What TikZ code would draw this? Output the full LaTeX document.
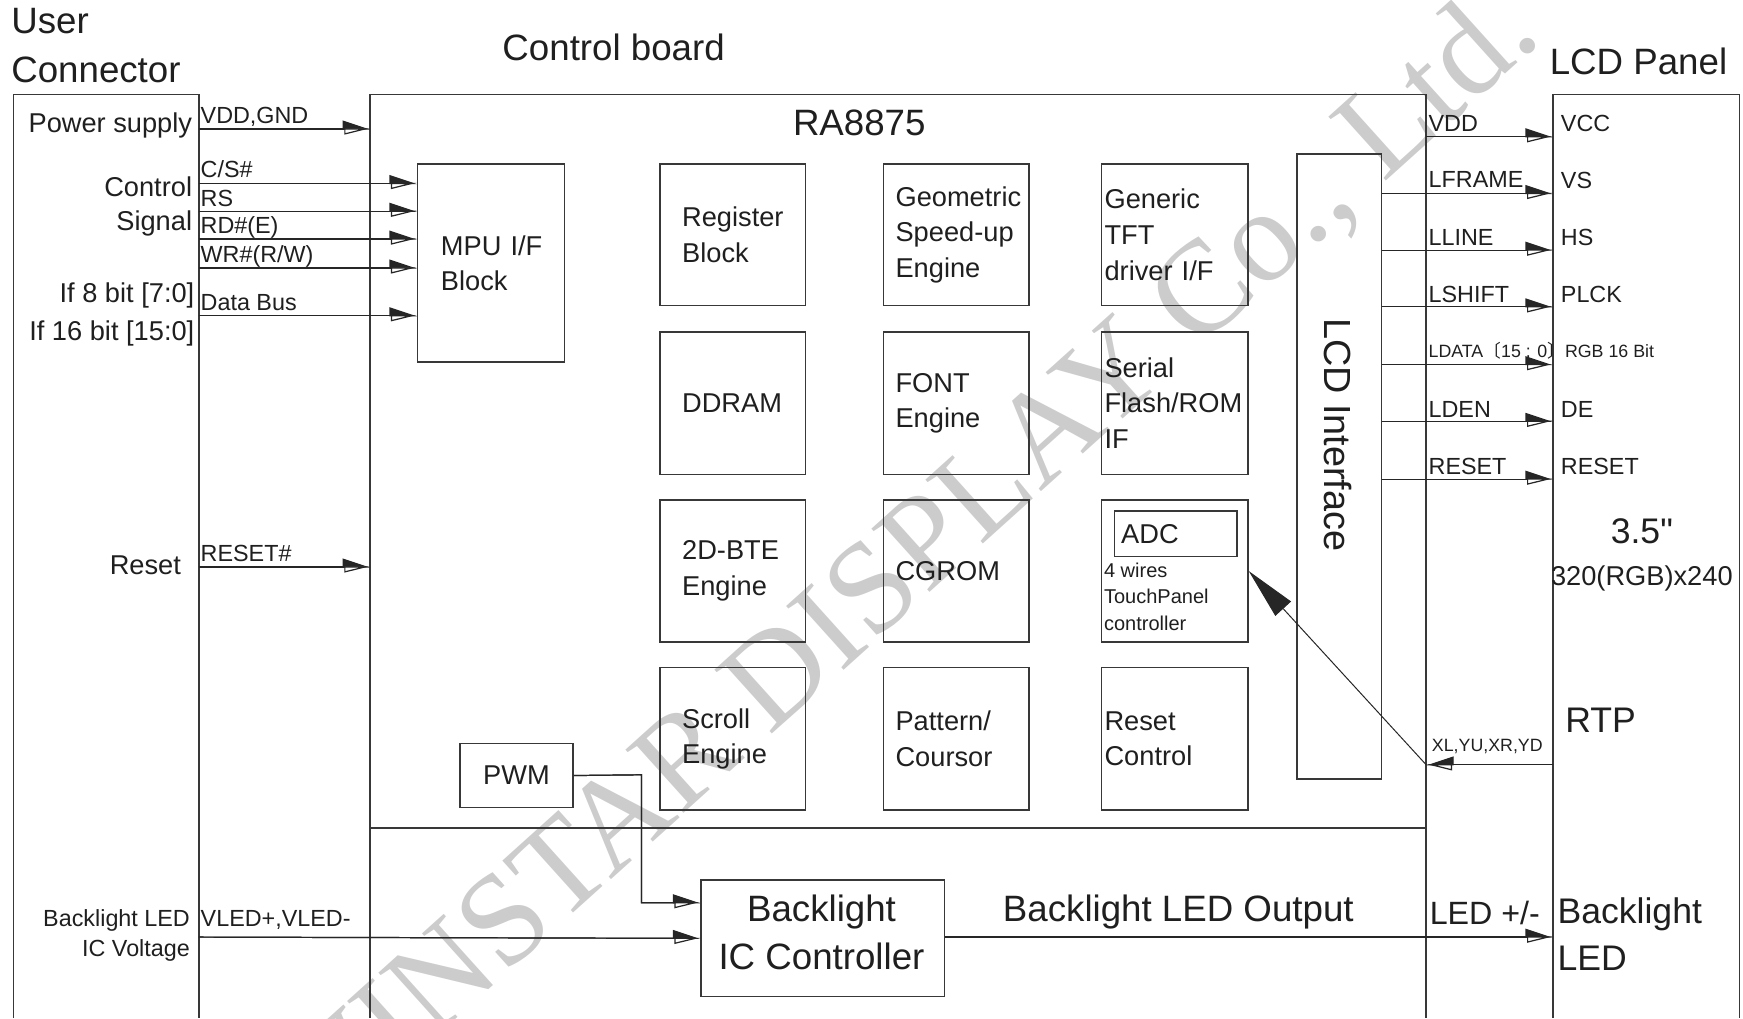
\documentclass[tikz,border=0pt]{standalone}
\usepackage{fontspec}
\setmainfont{Liberation Sans}
\newfontfamily\plainfont{Liberation Sans}
\newfontfamily\wmfont{Liberation Serif}
\newfontfamily\cjkfont{Noto Sans CJK SC}
\usetikzlibrary{arrows.meta}
\begin{document}
\begin{tikzpicture}[x=1pt,y=-1pt,
  every node/.style={text=black!88},
  box/.style={line width=1.3pt, draw=black!78},
  wire/.style={line width=1.1pt, draw=black!85},
  blk/.style={draw=black!78, line width=1.3pt, inner sep=0pt, anchor=north west, align=left},
  fA/.style={font=\fontsize{33}{43}\selectfont},
  fB/.style={font=\fontsize{24.5}{32}\selectfont},
  fC/.style={font=\fontsize{21}{27}\selectfont},
  fD/.style={font=\fontsize{18}{24}\selectfont},
  fE/.style={font=\fontsize{16}{20}\selectfont},
  lab/.style={anchor=base west, inner sep=0pt, xshift=1pt, yshift=5pt, fC},
  arr/.style={wire, -{Stealth[inset=0pt,length=23pt,width=15pt,left]},
    postaction={draw, -{Stealth[inset=0pt,length=21pt,width=10pt,right,fill=white]}}},
  arrL/.style={wire, -{Stealth[inset=0pt,length=23pt,width=15pt,right]},
    postaction={draw, -{Stealth[inset=0pt,length=21pt,width=10pt,left,fill=white]}}},
  arrD/.style={wire, line width=0.9pt, -{Stealth[inset=0pt,length=46pt,width=19pt]}},
]
\useasboundingbox (0,0) rectangle (1568,916);

% watermark
\node[text=black!20, rotate=42, font=\wmfont\fontsize{118}{118}\selectfont, inner sep=0pt] (wm) at (812,512) {WINSTAR DISPLAY Co., Ltd.};

% outer frames
\draw[box] (12,916) -- (12,85) -- (179,85) -- (179,916);
\draw[box] (333,916) -- (333,85) -- (1283,85) -- (1283,916);
\draw[box] (333,745) -- (1283,745);
\draw[box] (1397,916) -- (1397,85) -- (1565,85) -- (1565,916);
\coordinate (cbL) at (333,85);
\coordinate (cbR) at (1283,85);

% titles
\node[fA, anchor=base west, inner sep=0pt] (tuser) at (10,30) {User};
\node[fA, anchor=base west, inner sep=0pt] (tconn) at (10,74) {Connector};
\node[fA, anchor=base, inner sep=0pt] (tcb) at (552,54) {Control board};
\node[fA, anchor=base, inner sep=0pt] (tlcd) at (1474,67) {LCD Panel};
\node[fA, anchor=base, inner sep=0pt] (tra) at (773,122) {RA8875};

% user connector texts
\node[fB, anchor=base east, inner sep=0pt] (lps) at (173,119) {Power supply};
\node[fB, anchor=base east, inner sep=0pt] (lcs1) at (173,177) {Control};
\node[fB, anchor=base east, inner sep=0pt] (lcs2) at (173,207) {Signal};
\node[fB, anchor=base east, inner sep=0pt] (lb8) at (175,272) {If 8 bit [7:0]};
\node[fB, anchor=base east, inner sep=0pt] (lb16) at (175,306) {If 16 bit [15:0]};
\node[fB, anchor=base east, inner sep=0pt] (lrst) at (163,517) {Reset};
\node[fC, anchor=base east, inner sep=0pt] (lbl1) at (171,833.5) {Backlight LED};
\node[fC, anchor=base east, inner sep=0pt] (lbl2) at (171,860.5) {IC Voltage};

% blocks
\node[blk, fB, minimum width=132pt, minimum height=178pt, text width=90pt] (mpu) at (375,147) {\mbox{MPU I/F}\\Block};

\node[blk, fB, minimum width=131pt, minimum height=127pt, text width=91pt] (reg) at (593,147) {Register\\Block};
\node[blk, fB, minimum width=131pt, minimum height=127pt, text width=109pt] (geo) at (794,147) {Geometric\\Speed-up\\Engine};
\node[blk, fB, minimum width=132pt, minimum height=127pt, text width=126pt] (gen) at (990,147) {Generic\\TFT\\\mbox{driver I/F}};

\node[blk, fB, minimum width=131pt, minimum height=128pt, text width=91pt] (ddr) at (593,298) {DDRAM};
\node[blk, fB, minimum width=131pt, minimum height=128pt, text width=109pt] (fnt) at (794,298) {FONT\\Engine};
\node[blk, fB, minimum width=132pt, minimum height=128pt, text width=126pt] (ser) at (990,298) {Serial\\Flash/ROM\\IF};

\node[blk, fB, minimum width=131pt, minimum height=128pt, text width=91pt] (bte) at (593,449) {2D-BTE\\Engine};
\node[blk, fB, minimum width=131pt, minimum height=128pt, text width=109pt] (cgr) at (794,449) {CGROM};
\node[blk, minimum width=132pt, minimum height=128pt] (adc) at (990,449) {};
\node[blk, fB, minimum width=110pt, minimum height=41pt, text width=98pt] (adcin) at (1002,459) {ADC};
\node[fD, anchor=north west, inner sep=0pt, align=left] (tpc) at (993,506) {4 wires\\TouchPanel\\controller};

\node[blk, fB, minimum width=131pt, minimum height=128pt, text width=91pt] (scr) at (593,600) {Scroll\\Engine};
\node[blk, fB, minimum width=131pt, minimum height=128pt, text width=109pt] (pat) at (794,600) {Pattern/\\Coursor};
\node[blk, fB, minimum width=132pt, minimum height=128pt, text width=126pt] (rsc) at (990,600) {Reset\\Control};

\node[blk, fB, minimum width=102pt, minimum height=58pt, align=center] (pwm) at (413,668) {PWM};
\node[blk, minimum width=219pt, minimum height=105pt] (ic) at (630,791) {};
\node[fA, anchor=base, inner sep=0pt] (tic1) at (739,829) {Backlight};
\node[fA, anchor=base, inner sep=0pt] (tic2) at (739,872) {IC Controller};

\node[blk, minimum width=76pt, minimum height=562pt] (lcdif) at (1166,138) {};
\node[font=\fontsize{34}{40}\selectfont, rotate=-90, inner sep=0pt] (tlcdif) at (1204,391) {LCD Interface};

% left wires
\coordinate (uc1) at (179,116);
\coordinate (uc2) at (179,165);
\coordinate (uc3) at (179,190);
\coordinate (uc4) at (179,215);
\coordinate (uc5) at (179,241);
\coordinate (uc6) at (179,284);
\coordinate (uc7) at (179,510);
\coordinate (uc8) at (179,843);

\draw[arr] (uc1) -- (cbL |- uc1) node[pos=0, lab] {VDD,GND};
\draw[arr] (uc2) -- (mpu.west |- uc2) node[pos=0, lab] {C/S\#};
\draw[arr] (uc3) -- (mpu.west |- uc3) node[pos=0, lab, yshift=-0.5pt] {RS};
\draw[arr] (uc4) -- (mpu.west |- uc4) node[pos=0, lab] {RD\#(E)};
\draw[arr] (uc5) -- (mpu.west |- uc5) node[pos=0, lab] {WR\#(R/W)};
\draw[arr] (uc6) -- (mpu.west |- uc6) node[pos=0, lab] {Data Bus};
\draw[arr] (uc7) -- (cbL |- uc7) node[pos=0, lab] {RESET\#};
\draw[arr] (uc8) -- (ic.west) node[pos=0, lab, yshift=4.5pt] {VLED+,VLED-};

% PWM to IC
\coordinate (pwmbend) at (577,697);
\coordinate (icin1) at (630,812);
\draw[arr] (pwm.east) -- (pwmbend) |- (icin1);

% backlight output
\coordinate (p8) at (1397,843);
\draw[arr] (ic.east |- p8) -- (p8);
\node[fA, anchor=base, inner sep=0pt] (tblo) at (1060,829) {Backlight LED Output};
\node[font=\fontsize{29}{35}\selectfont, anchor=base west, inner sep=0pt] (tled) at (1286,832) {LED +/-};

% right wires
\coordinate (p1) at (1397,123);
\coordinate (p2) at (1397,174);
\coordinate (p3) at (1397,225);
\coordinate (p4) at (1397,276);
\coordinate (p5) at (1397,328);
\coordinate (p6) at (1397,379);
\coordinate (p7) at (1397,431);
\draw[arr] (cbR |- p1) -- (p1);
\draw[arr] (lcdif.east |- p2) -- (p2);
\draw[arr] (lcdif.east |- p3) -- (p3);
\draw[arr] (lcdif.east |- p4) -- (p4);
\draw[arr] (lcdif.east |- p5) -- (p5);
\draw[arr] (lcdif.east |- p6) -- (p6);
\draw[arr] (lcdif.east |- p7) -- (p7);

\node[fC, anchor=base west, inner sep=0pt] (sl1) at (1285,118.5) {VDD};
\node[fC, anchor=base west, inner sep=0pt] (sl2) at (1285,168.5) {LFRAME};
\node[fC, anchor=base west, inner sep=0pt] (sl3) at (1285,220.5) {LLINE};
\node[fC, anchor=base west, inner sep=0pt] (sl4) at (1285,272.5) {LSHIFT};
\node[fE, anchor=base west, inner sep=0pt] (sl5) at (1285,321.7) {LDATA{\cjkfont 〔}15 : 0{\cjkfont 〕}RGB 16 Bit};
\node[fC, anchor=base west, inner sep=0pt] (sl6) at (1285,375.5) {LDEN};
\node[fC, anchor=base west, inner sep=0pt] (sl7) at (1285,426.5) {RESET};

\node[fC, anchor=base west, inner sep=0pt] (pl1) at (1404,118.5) {VCC};
\node[fC, anchor=base west, inner sep=0pt] (pl2) at (1404,169.5) {VS};
\node[fC, anchor=base west, inner sep=0pt] (pl3) at (1404,220.5) {HS};
\node[fC, anchor=base west, inner sep=0pt] (pl4) at (1404,272.5) {PLCK};
\node[fC, anchor=base west, inner sep=0pt] (pl6) at (1404,375.5) {DE};
\node[fC, anchor=base west, inner sep=0pt] (pl7) at (1404,426.5) {RESET};

\node[font=\plainfont\fontsize{32}{38}\selectfont, anchor=base, inner sep=0pt] (tsz) at (1477,489) {3.5"};
\node[fB, anchor=base, inner sep=0pt] (tres) at (1477,527) {320(RGB)x240};
\node[font=\fontsize{32}{38}\selectfont, anchor=base west, inner sep=0pt] (trtp) at (1408,659) {RTP};
\node[font=\fontsize{32}{40}\selectfont, anchor=base west, inner sep=0pt] (tbl1) at (1401,831) {Backlight};
\node[font=\fontsize{32}{40}\selectfont, anchor=base west, inner sep=0pt] (tbl2) at (1401,873) {LED};

% RTP
\coordinate (prtp) at (1397,688);
\coordinate (rtpin) at (1283,688);
\node[fE, anchor=base west, inner sep=0pt] (trtpl) at (1288,675.7) {XL,YU,XR,YD};
\draw[arrL] (prtp) -- (rtpin);
\draw[arrD] (rtpin) -- (adc.east);
\end{tikzpicture}
\end{document}
